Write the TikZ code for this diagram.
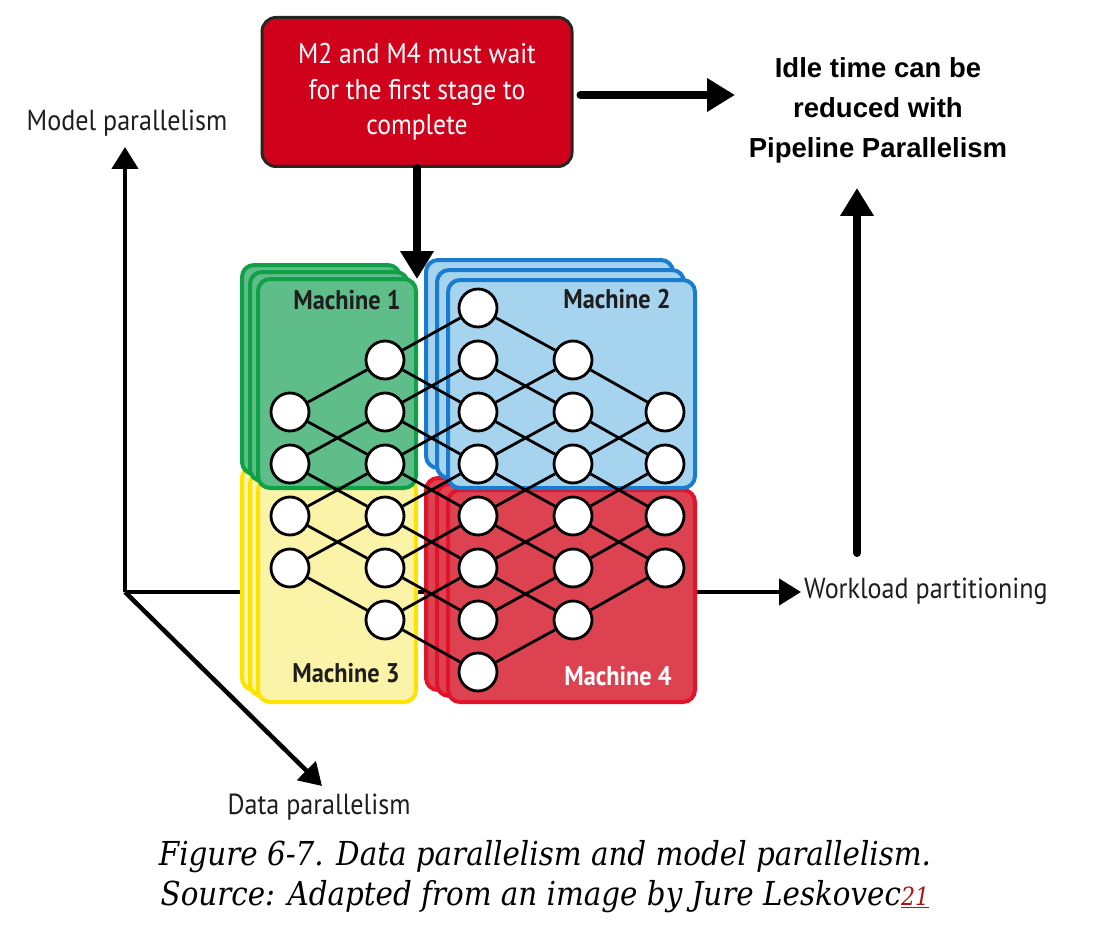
\documentclass[tikz,border=0pt]{standalone}
\usepackage{fontspec}
\usetikzlibrary{arrows.meta}
\newfontfamily\myr[FakeStretch=0.9]{PT Sans}
\newfontfamily\arb{Liberation Sans}
\newfontfamily\capfont[FakeStretch=0.89]{DejaVu Serif}
\definecolor{gfill}{RGB}{94,189,136}
\definecolor{gdraw}{RGB}{16,160,72}
\definecolor{yfill}{RGB}{250,243,168}
\definecolor{ydraw}{RGB}{255,226,0}
\definecolor{bfill}{RGB}{166,211,237}
\definecolor{bdraw}{RGB}{26,124,206}
\definecolor{rfill}{RGB}{220,66,80}
\definecolor{rdraw}{RGB}{226,20,44}
\definecolor{topred}{RGB}{208,2,27}
\definecolor{linkred}{RGB}{170,20,20}
\definecolor{txt}{RGB}{30,30,30}
\tikzset{
  mbox/.style={line width=4pt, rounded corners=12pt},
  neuron/.style={circle, draw=black, fill=white, line width=2.8pt, minimum size=38pt, inner sep=0pt},
  edge/.style={draw=black, line width=2.8pt},
  axisline/.style={line width=4.5pt, -{Triangle[length=22pt,width=26pt]}},
  bigarrow/.style={line width=8pt, line cap=round, -{Triangle[length=28pt,width=32pt]}},
  axislabel/.style={font={\myr\fontsize{29pt}{34pt}\selectfont}, text=txt, inner sep=0pt},
  mlabel/.style={font={\myr\bfseries\fontsize{27pt}{30pt}\selectfont}, text=txt, inner sep=0pt},
  topbox/.style={draw=black!85, line width=3pt, fill=topred, rounded corners=14pt,
    minimum width=310pt, minimum height=149pt, text=white, align=center,
    font={\myr\fontsize{28.5pt}{35.5pt}\selectfont}},
  idletext/.style={font={\arb\bfseries\fontsize{27.5pt}{40pt}\selectfont}, align=center, inner sep=0pt},
  caption/.style={font={\capfont\itshape\fontsize{33pt}{40pt}\selectfont}, align=center, inner sep=0pt}
}
\newcommand\stackbox[8]{%
  \draw[mbox, fill=#1, draw=#2] ({#3-2*#7},{#4-2*#8}) rectangle ({#5-2*#7},{#6-2*#8});
  \draw[mbox, fill=#1, draw=#2] ({#3-#7},{#4-#8}) rectangle ({#5-#7},{#6-#8});
  \draw[mbox, fill=#1, draw=#2] (#3,#4) rectangle (#5,#6);
}
\begin{document}
\begin{tikzpicture}[x=1pt,y=-1pt]
\useasboundingbox[fill=white] (0,0) rectangle (1100,936);

% axes
\coordinate (O) at (125,592);
\coordinate (ytip) at (125,147);
\coordinate (xtip) at (801,592);
\coordinate (ztip) at (322,786);
\draw[axisline] (O) -- (ytip);
\draw[axisline] (O) -- (xtip);
\draw[axisline] (O) -- (ztip);

% machine stacks
\stackbox{yfill}{ydraw}{258}{478}{416}{702}{8}{6}
\stackbox{rfill}{rdraw}{448}{490}{695}{702}{11}{6}
\stackbox{gfill}{gdraw}{258}{279}{416}{488}{8}{7}
\stackbox{bfill}{bdraw}{448}{280}{695}{488}{11}{10}

\node[mlabel] (m1) at (347,300) {Machine 1};
\node[mlabel] (m2) at (617,299) {Machine 2};
\node[mlabel] (m3) at (346,673) {Machine 3};
\node[mlabel, text=white] (m4) at (618,676) {Machine 4};

% neurons
\foreach \c/\x/\lo/\hi in {1/290/2/5, 2/385/1/6, 3/478/0/7, 4/573/1/6, 5/665/2/5}{
  \foreach \k in {\lo,...,\hi}{
    \node[neuron] (n\c-\k) at (\x,{308+52*\k}) {};
  }
}
% connections
\foreach \c/\lo/\hi/\nlo/\nhi in {1/2/5/1/6, 2/1/6/0/7, 3/0/7/1/6, 4/1/6/2/5}{
  \pgfmathtruncatemacro\d{\c+1}
  \foreach \k in {\lo,...,\hi}{
    \pgfmathtruncatemacro\u{\k-1}
    \pgfmathtruncatemacro\w{\k+1}
    \ifnum\u<\nlo\else \draw[edge] (n\c-\k) -- (n\d-\u);\fi
    \ifnum\w>\nhi\else \draw[edge] (n\c-\k) -- (n\d-\w);\fi
  }
}

% top box and arrows
\node[topbox] (top) at (417,92) {M2 and M4 must wait\\for the first stage to\\complete};
\node[idletext, anchor=north] (idle) at (878,57) {Idle time can be\\reduced with\\Pipeline Parallelism};
\coordinate (rtip) at (735,95);
\coordinate (dtip) at (417,279);
\coordinate (vbot) at (857,553);
\coordinate (vtip) at (857,188);
\draw[bigarrow] ([xshift=7pt,yshift=-3pt]top.east) -- (rtip);
\draw[bigarrow] (top.south) -- (dtip);
\draw[bigarrow] (vbot) -- (vtip);

% axis labels
\node[axislabel] (ml) at (127,123) {Model parallelism};
\node[axislabel, anchor=west] (wl) at (804,591) {Workload partitioning};
\node[axislabel] (dl) at (319,807) {Data parallelism};

% caption
\node[caption] (cap) at (545,877) {Figure 6-7. Data parallelism and model parallelism.\\Source: Adapted from an image by Jure Leskovec{\color{linkred}\fontsize{25pt}{25pt}\selectfont\underline{21}}};
\end{tikzpicture}
\end{document}
